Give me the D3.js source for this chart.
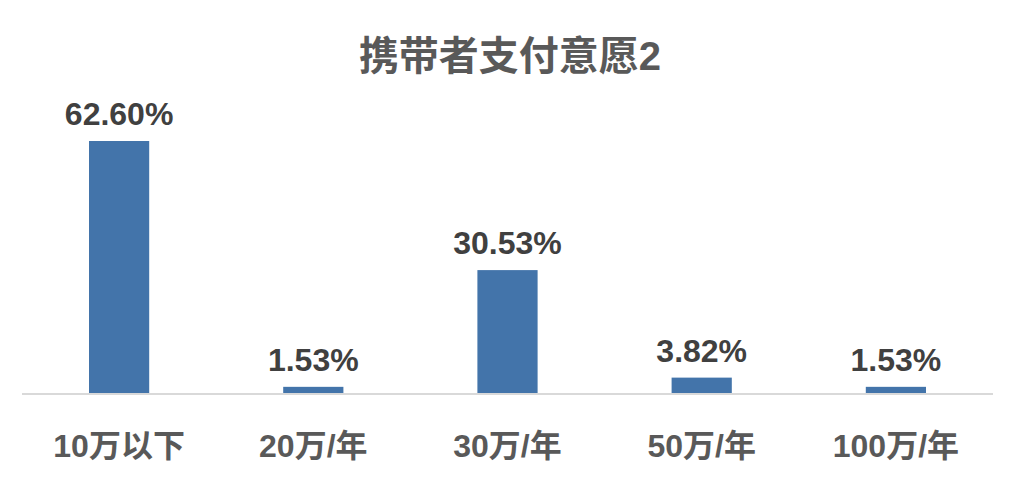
<!DOCTYPE html>
<html>
<head>
<meta charset="utf-8">
<script src="https://cdn.jsdelivr.net/npm/d3@7"></script>
<style>
  body { margin: 0; background: #fff; }
  text { font-family: "Liberation Sans", Arial, "Noto Sans CJK SC", sans-serif; font-weight: bold; }
</style>
</head>
<body>
<div id="chart"></div>
<script>
// data
var title = "携带者支付意愿2";
var categories = ["10万以下", "20万/年", "30万/年", "50万/年", "100万/年"];
var values = [62.60, 1.53, 30.53, 3.82, 1.53];

var width = 1016, height = 485;
var margin = {top: 141, right: 23, bottom: 92, left: 22};

var svg = d3.select("#chart").append("svg")
    .attr("width", width)
    .attr("height", height);

var x = d3.scaleBand()
    .domain(categories)
    .range([margin.left, width - margin.right])
    .paddingInner(0.69)
    .paddingOuter(0.345);

var y = d3.scaleLinear()
    .domain([0, d3.max(values)])
    .range([height - margin.bottom, margin.top]);

var data = categories.map(function(c, i) { return {cat: c, val: values[i]}; });

// title
svg.append("text")
    .attr("x", width / 2 + 2)
    .attr("y", 70)
    .attr("text-anchor", "middle")
    .attr("fill", "#595959")
    .style("font-size", "40px")
    .text(title);

// bars
svg.append("g")
    .selectAll("rect")
    .data(data)
    .enter()
    .append("rect")
    .attr("x", d => x(d.cat))
    .attr("y", d => y(d.val))
    .attr("width", x.bandwidth())
    .attr("height", d => y(0) - y(d.val))
    .attr("fill", "#4374AA");

// baseline
svg.append("line")
    .attr("x1", margin.left)
    .attr("x2", width - margin.right)
    .attr("y1", y(0) + 1)
    .attr("y2", y(0) + 1)
    .attr("stroke", "#D9D9D9")
    .attr("stroke-width", 2);

// value labels
svg.append("g")
    .selectAll("text")
    .data(data)
    .enter()
    .append("text")
    .attr("x", d => x(d.cat) + x.bandwidth() / 2)
    .attr("y", d => y(d.val) - 16)
    .attr("text-anchor", "middle")
    .attr("fill", "#404040")
    .style("font-size", "32px")
    .text(d => d.val.toFixed(2) + "%");

// category axis
var axis = svg.append("g")
    .attr("transform", "translate(0," + (height - 28) + ")")
    .call(d3.axisBottom(x).tickSize(0).tickPadding(0));
axis.select(".domain").remove();
axis.selectAll("text")
    .attr("dy", 0)
    .attr("fill", "#595959")
    .style("font-size", "32px")
    .style("font-family", "\"Liberation Sans\", Arial, \"Noto Sans CJK SC\", sans-serif")
    .style("font-weight", "bold");
</script>
</body>
</html>
